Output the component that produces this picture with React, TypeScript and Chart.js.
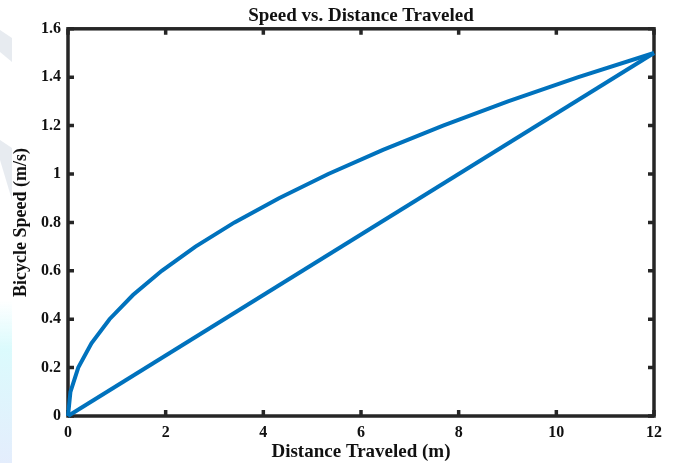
import React, { useEffect, useRef } from "react";
import { Chart, registerables } from "chart.js";

Chart.register(...registerables);

// Curved run: distance (m) vs speed (m/s)
const curveDistance = [0, 0.05, 0.21, 0.48, 0.85, 1.33, 1.92, 2.61, 3.41, 4.32, 5.33, 6.45, 7.68, 9.01, 10.45, 12];
const curveSpeed = [0, 0.1, 0.2, 0.3, 0.4, 0.5, 0.6, 0.7, 0.8, 0.9, 1.0, 1.1, 1.2, 1.3, 1.4, 1.5];
// Straight run
const lineDistance = [0, 12];
const lineSpeed = [0, 1.5];

const xTickValues = [0, 2, 4, 6, 8, 10, 12];
const yTickValues = [0, 0.2, 0.4, 0.6, 0.8, 1, 1.2, 1.4, 1.6];
const yTickLabels = ["0", "0.2", "0.4", "0.6", "0.8", "1", "1.2", "1.4", "1.6"];

const titleText = "Speed vs. Distance Traveled";
const xTitle = "Distance Traveled (m)";
const yTitle = "Bicycle Speed (m/s)";

const AXIS_COLOR = "#262626";
const LINE_COLOR = "#0072BD";
const FONT = "'Liberation Serif', 'Times New Roman', serif";

const boxPlugin = {
  id: "matlabBox",
  beforeDraw(chart: any) {
    const ctx = chart.ctx;
    ctx.save();
    // faint watermark strip on the left
    const g = ctx.createLinearGradient(0, 300, 0, 463);
    g.addColorStop(0, "rgba(215,250,252,0)");
    g.addColorStop(0.3, "rgba(215,250,252,0.9)");
    g.addColorStop(1, "rgba(225,235,252,0.9)");
    ctx.fillStyle = g;
    ctx.fillRect(0, 300, 12, 163);
    ctx.fillStyle = "rgba(225,230,236,0.8)";
    ctx.beginPath();
    ctx.moveTo(0, 30);
    ctx.lineTo(12, 38);
    ctx.lineTo(12, 62);
    ctx.lineTo(0, 52);
    ctx.closePath();
    ctx.fill();
    ctx.beginPath();
    ctx.moveTo(0, 140);
    ctx.lineTo(12, 148);
    ctx.lineTo(12, 200);
    ctx.lineTo(0, 160);
    ctx.closePath();
    ctx.fill();
    ctx.restore();
  },
  beforeDatasetsDraw(chart: any) {
    const { ctx, chartArea, scales } = chart;
    const { left, right, top, bottom } = chartArea;
    ctx.save();
    ctx.strokeStyle = AXIS_COLOR;
    ctx.lineWidth = 3.5;
    ctx.lineCap = "butt";
    ctx.strokeRect(left, top, right - left, bottom - top);
    const tl = 6;
    ctx.beginPath();
    xTickValues.forEach((v) => {
      const px = scales.x.getPixelForValue(v);
      ctx.moveTo(px, bottom);
      ctx.lineTo(px, bottom - tl);
      ctx.moveTo(px, top);
      ctx.lineTo(px, top + tl);
    });
    yTickValues.forEach((v) => {
      const py = scales.y.getPixelForValue(v);
      ctx.moveTo(left, py);
      ctx.lineTo(left + tl, py);
      ctx.moveTo(right, py);
      ctx.lineTo(right - tl, py);
    });
    ctx.stroke();
    ctx.restore();
  },
};

export default function App() {
  const canvasRef = useRef<HTMLCanvasElement | null>(null);

  useEffect(() => {
    if (!canvasRef.current) return;
    const chart = new Chart(canvasRef.current, {
      type: "scatter",
      data: {
        datasets: [
          {
            label: "curve",
            data: curveDistance.map((x, i) => ({ x, y: curveSpeed[i] })),
            showLine: true,
            borderColor: LINE_COLOR,
            backgroundColor: LINE_COLOR,
            borderWidth: 4,
            pointRadius: 0,
            tension: 0,
            clip: 6,
          },
          {
            label: "straight",
            data: lineDistance.map((x, i) => ({ x, y: lineSpeed[i] })),
            showLine: true,
            borderColor: LINE_COLOR,
            backgroundColor: LINE_COLOR,
            borderWidth: 4,
            pointRadius: 0,
            clip: 6,
          },
        ],
      },
      options: {
        animation: false,
        responsive: false,
        layout: { padding: { left: 0, right: 21, top: 0, bottom: 0 } },
        plugins: {
          legend: { display: false },
          tooltip: { enabled: false },
          title: {
            display: true,
            text: titleText,
            fullSize: false,
            color: "#111",
            font: { family: FONT, size: 19, weight: "bold", lineHeight: 1.2 },
            padding: { top: 5, bottom: 1 },
          },
        },
        scales: {
          x: {
            type: "linear",
            min: 0,
            max: 12,
            afterBuildTicks: (scale: any) => {
              scale.ticks = xTickValues.map((v) => ({ value: v }));
            },
            afterFit: (scale: any) => {
              scale.height = 47;
            },
            grid: { display: false, drawTicks: false },
            border: { display: false },
            ticks: {
              color: "#111",
              padding: 7,
              font: { family: FONT, size: 16, weight: "bold" },
              callback: (v: any) => String(v),
            },
            title: {
              display: true,
              text: xTitle,
              color: "#111",
              font: { family: FONT, size: 19, weight: "bold", lineHeight: 1.2 },
              padding: { top: 0, bottom: 0 },
            },
          },
          y: {
            type: "linear",
            min: 0,
            max: 1.6,
            afterBuildTicks: (scale: any) => {
              scale.ticks = yTickValues.map((v) => ({ value: v }));
            },
            afterFit: (scale: any) => {
              scale.width = 68;
            },
            grid: { display: false, drawTicks: false },
            border: { display: false },
            ticks: {
              color: "#111",
              padding: 7,
              font: { family: FONT, size: 16, weight: "bold" },
              callback: (_v: any, i: number) => yTickLabels[i],
            },
            title: {
              display: true,
              text: yTitle,
              color: "#111",
              font: { family: FONT, size: 18, weight: "bold", lineHeight: 1.2 },
              padding: { top: 11, bottom: 0 },
            },
          },
        },
      },
      plugins: [boxPlugin],
    });
    return () => chart.destroy();
  }, []);

  return (
    <div style={{ position: "fixed", left: 0, top: 0, width: 675, height: 463, background: "#fff" }}>
      <canvas ref={canvasRef} width={675} height={463} style={{ width: 675, height: 463, display: "block" }} />
    </div>
  );
}
